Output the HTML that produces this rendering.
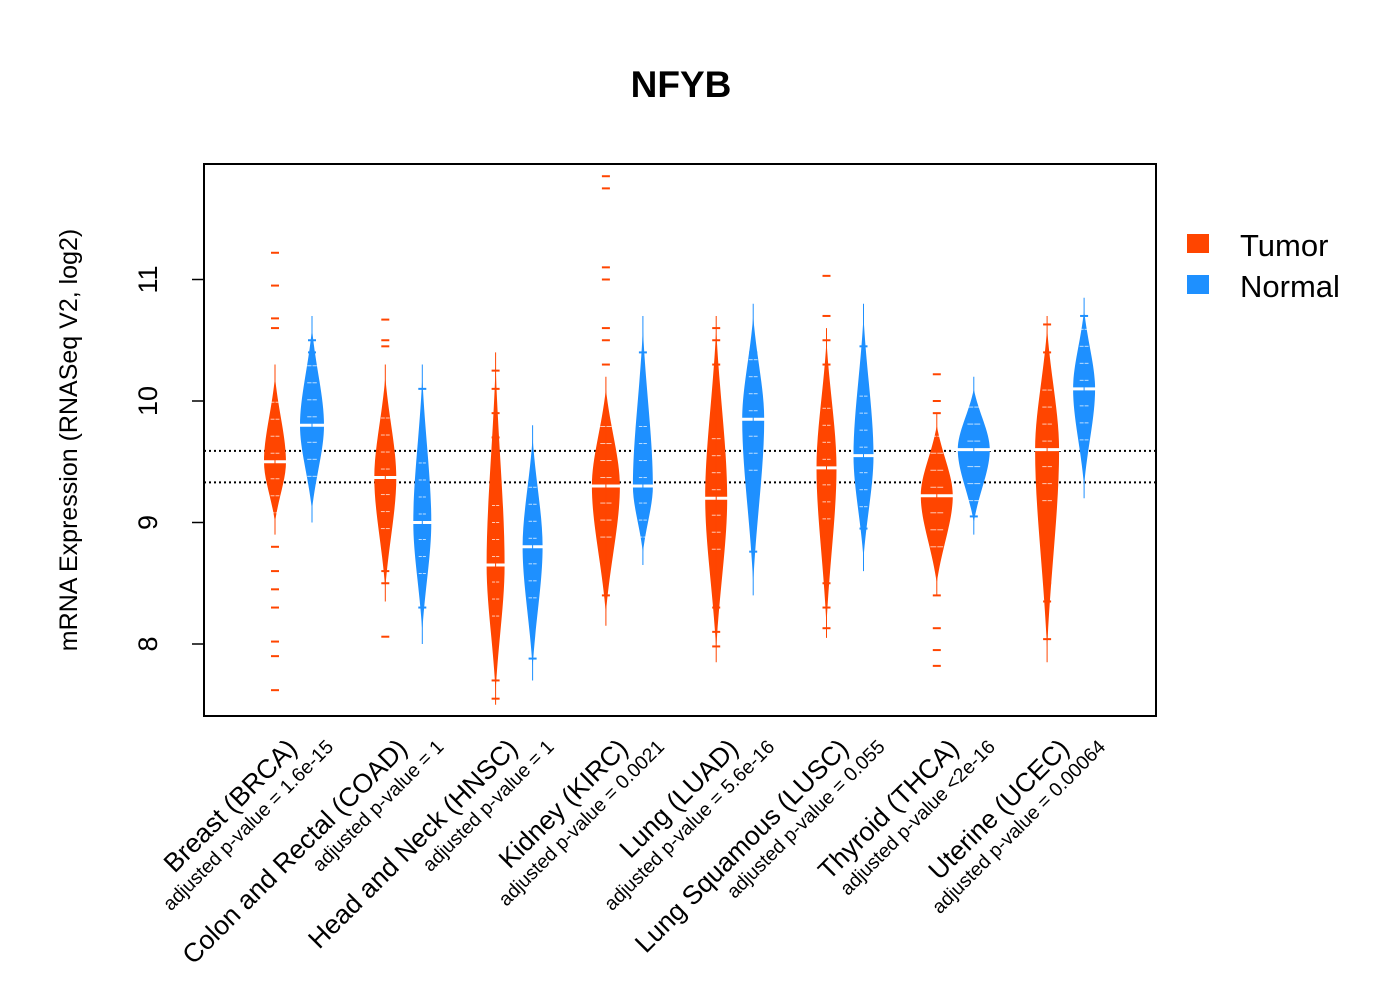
<!DOCTYPE html>
<html><head><meta charset="utf-8"><style>
body{margin:0;background:#fff}
svg{display:block;font-family:"Liberation Sans",Arial,sans-serif}
</style></head><body>
<svg id="chart" width="1400" height="1000">
<text x="681" y="97" text-anchor="middle" font-size="37" font-weight="bold">NFYB</text>
<rect x="204" y="164" width="952" height="552" fill="none" stroke="#000" stroke-width="2"/>
<text transform="translate(77,440) rotate(-90)" text-anchor="middle" font-size="25">mRNA Expression (RNASeq V2, log2)</text>
<g>
<rect x="1187" y="234" width="22" height="19" fill="#FF4500"/>
<text x="1240" y="256" font-size="31">Tumor</text>
<rect x="1187" y="275" width="22" height="19" fill="#1E90FF"/>
<text x="1240" y="297" font-size="31">Normal</text>
</g>
<g id="marks"></g>
</svg>
<script>
const categories=["Breast (BRCA)","Colon and Rectal (COAD)","Head and Neck (HNSC)","Kidney (KIRC)","Lung (LUAD)","Lung Squamous (LUSC)","Thyroid (THCA)","Uterine (UCEC)"];
const pvalues=["adjusted p-value = 1.6e-15","adjusted p-value = 1","adjusted p-value = 1","adjusted p-value = 0.0021","adjusted p-value = 5.6e-16","adjusted p-value = 0.055","adjusted p-value <2e-16","adjusted p-value = 0.00064"];
const yTicks=[8,9,10,11];
const refLines=[9.59,9.33];
const tumorMedian=[9.5,9.37,8.65,9.3,9.2,9.45,9.22,9.6];
const tumorLow=[9.0,8.45,7.6,8.25,7.95,8.15,8.5,7.95];
const tumorHigh=[10.2,10.2,10.3,10.1,10.6,10.5,9.8,10.6];
const tumorWidth=[11,11,9,14,11,10,16,12];
const normalMedian=[9.8,9.0,8.8,9.3,9.85,9.55,9.6,10.1];
const normalLow=[9.1,8.1,7.8,8.75,8.5,8.7,9.0,9.3];
const normalHigh=[10.6,10.2,9.7,10.6,10.7,10.7,10.1,10.75];
const normalWidth=[12,9,10,10,11,10,16,11];
const tumorOutliers=[[11.22,10.95,10.68,10.6,8.8,8.6,8.45,8.3,8.02,7.9,7.62],[10.67,10.5,10.45,8.6,8.5,8.06],[10.25,10.1,9.9,9.7,7.7,7.55],[11.85,11.75,11.1,11.0,10.6,10.5,10.3,8.6,8.4],[10.6,10.5,10.3,8.3,8.1,7.98],[11.03,10.7,10.5,10.3,8.5,8.3,8.13],[10.22,10.0,9.9,8.4,8.13,7.95,7.82],[10.63,10.4,8.5,8.35,8.04]];
const normalOutliers=[[10.5,10.4],[10.1,8.3],[7.88],[10.4],[10.4,8.76],[10.45,8.95],[9.05],[10.7]];
const X0=204,X1=1156,Y0=164,Y1=716;
function yScale(v){return 401-(v-10)*121.5;}
function tumorX(i){return 275+i*110.3;}
function normalX(i){return 312+i*110.3;}
const NS="http://www.w3.org/2000/svg";
const g=document.getElementById('marks');
function mk(tag,attrs){const e=document.createElementNS(NS,tag);for(const k in attrs)e.setAttribute(k,attrs[k]);g.appendChild(e);return e;}
yTicks.forEach(t=>{
  const y=yScale(t);
  const l=mk('line',{x1:X0,x2:X0-12,y1:y,y2:y,stroke:'#000','stroke-width':1.5});
  
  
  const tx=mk('text',{transform:`translate(157,${y}) rotate(-90)`,'text-anchor':'middle','font-size':27});
  tx.textContent=t;
  
  
});
refLines.forEach((r,k)=>{
  const l=mk('line',{x1:X0,x2:X1,y1:yScale(r),y2:yScale(r),stroke:'#000','stroke-width':2,'stroke-dasharray':'2,3'});
  
  
});
function bean(cx,med,lo,hi,w,outs,color,name){
  const ym=yScale(med),yl=yScale(lo),yh=yScale(hi);
  const d=`M${cx},${yh} C${cx+w*0.3},${yh+(ym-yh)*0.4} ${cx+w},${ym-(ym-yh)*0.3} ${cx+w},${ym} C${cx+w},${ym+(yl-ym)*0.3} ${cx+w*0.3},${yl-(yl-ym)*0.4} ${cx},${yl} C${cx-w*0.3},${yl-(yl-ym)*0.4} ${cx-w},${ym+(yl-ym)*0.3} ${cx-w},${ym} C${cx-w},${ym-(ym-yh)*0.3} ${cx-w*0.3},${yh+(ym-yh)*0.4} ${cx},${yh}Z`;
  const p=mk('path',{d:d,fill:color});
  
  
  for(let k=1;k<8;k++){
    const v=med+(k%2?1:-1)*k*0.07;
    const y=yScale(v);
    mk('line',{x1:cx-w*0.4,x2:cx+w*0.4,y1:y,y2:y,stroke:'#fff','stroke-width':1,opacity:0.7});
  }
  const m=mk('line',{x1:cx-w-4,x2:cx+w+4,y1:ym,y2:ym,stroke:'#fff','stroke-width':3});
  
  
  outs.forEach(o=>{
    const y=yScale(o);
    const ol=mk('line',{x1:cx-4,x2:cx+4,y1:y,y2:y,stroke:color,'stroke-width':2});
    
    
  });
  mk('line',{x1:cx,x2:cx,y1:yScale(hi+0.1),y2:yScale(lo-0.1),stroke:color,'stroke-width':1});
}
categories.forEach((c,i)=>{
  bean(tumorX(i),tumorMedian[i],tumorLow[i],tumorHigh[i],tumorWidth[i],tumorOutliers[i],'#FF4500','tumor-'+i);
  bean(normalX(i),normalMedian[i],normalLow[i],normalHigh[i],normalWidth[i],normalOutliers[i],'#1E90FF','normal-'+i);
  const cx=(tumorX(i)+normalX(i))/2;
  const t=mk('text',{transform:`translate(${cx+5},750) rotate(-45)`,'text-anchor':'end','font-size':26.5});
  t.textContent=c;
  
  
  const p=mk('text',{transform:`translate(${cx+41},748) rotate(-45)`,'text-anchor':'end','font-size':19.5});
  p.textContent=pvalues[i];
  
  
});
</script>
</body></html>
